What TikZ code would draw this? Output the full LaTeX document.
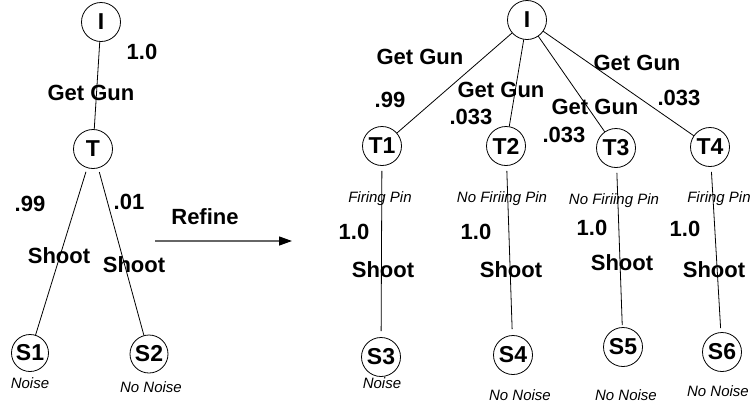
\documentclass[tikz,border=0pt]{standalone}
\usepackage{fontspec}
\setmainfont{Liberation Sans}
\usetikzlibrary{arrows.meta}
\begin{document}
\begin{tikzpicture}[x=1pt,y=-1pt,
  state/.style={circle,draw,line width=0.8pt,minimum size=39pt,inner sep=0pt,font=\fontsize{23}{25}\selectfont\bfseries},
  lbl/.style={inner sep=0pt,font=\fontsize{22}{24}\selectfont\bfseries},
  note/.style={inner sep=0pt,font=\fontsize{15}{17}\selectfont\itshape},
  edge/.style={line width=0.8pt},
  vedge/.style={line width=0.8pt,shorten <=5pt,shorten >=6pt}]
\useasboundingbox (0,0) rectangle (753,405);
% left tree
\node[state] (I) at (101,22) {I};
\node[state] (T) at (93,149) {T};
\node[state,minimum size=37pt] (S1) at (30,353) {S1};
\node[state,minimum size=38pt] (S2) at (149,354) {S2};
\draw[edge] (I) -- (T);
\draw[edge,shorten <=4pt] (T) -- (S1);
\draw[edge,shorten <=4pt] (T) -- (S2);
\node[lbl] (p1) at (142,52) {1.0};
\node[lbl] (g0) at (91,93) {Get Gun};
\node[lbl] (p2) at (30,204) {.99};
\node[lbl] (p3) at (129,202) {.01};
\node[lbl] (sh1) at (59,256) {Shoot};
\node[lbl] (sh2) at (134,265) {Shoot};
\node[note] (n1) at (30,383) {Noise};
\node[note] (n2) at (151,387) {No Noise};
% refine arrow
\node[lbl] (ref) at (205,217) {Refine};
\coordinate (a0) at (155,241);
\coordinate (a1) at (292,241);
\draw[line width=1.3pt,draw=black!60,-{Triangle[length=13pt,width=9pt,fill=black,color=black]}] (a0) -- (a1);
% right tree
\node[state] (RI) at (527,20) {I};
\node[state] (T1) at (382,146) {T1};
\node[state] (T2) at (506,146) {T2};
\node[state] (T3) at (616,148) {T3};
\node[state] (T4) at (710,147) {T4};
\node[state] (S3) at (381,357) {S3};
\node[state] (S4) at (513,355) {S4};
\node[state] (S5) at (623,347) {S5};
\node[state] (S6) at (722,352) {S6};
\draw[edge] (RI) -- (T1);
\draw[edge] (RI) -- (T2);
\draw[edge] (RI) -- (T3);
\draw[edge] (RI) -- (T4);
\draw[vedge] (T1) -- (S3);
\draw[vedge] (T2) -- (S4);
\draw[vedge,shorten >=2pt] (T3) -- (S5);
\draw[vedge,shorten >=4pt] (T4) -- (S6);
\node[lbl] (g1) at (420,57) {Get Gun};
\node[lbl] (q1) at (390,100) {.99};
\node[lbl] (g2) at (501,90) {Get Gun};
\node[lbl] (q2) at (471,117) {.033};
\node[lbl] (g3) at (595,107) {Get Gun};
\node[lbl] (q3) at (564,135) {.033};
\node[lbl] (g4) at (637,63) {Get Gun};
\node[lbl] (q4) at (679,98) {.033};
\node[note] (f1) at (380,199) {Firing Pin};
\node[note] (f2) at (502,199) {No Firiing Pin};
\node[note] (f3) at (614,201) {No Firiing Pin};
\node[note] (f4) at (719,199) {Firing Pin};
\node[lbl] (r1) at (354,232) {1.0};
\node[lbl] (r2) at (476,232) {1.0};
\node[lbl] (r3) at (592,228) {1.0};
\node[lbl] (r4) at (685,229) {1.0};
\node[lbl] (s3) at (383,270) {Shoot};
\node[lbl] (s4) at (511,270) {Shoot};
\node[lbl] (s5) at (622,263) {Shoot};
\node[lbl] (s6) at (714,270) {Shoot};
\node[note] (m3) at (382,383) {Noise};
\node[note] (m4) at (520,395) {No Noise};
\node[note] (m5) at (626,395) {No Noise};
\node[note] (m6) at (718,391) {No Noise};
\end{tikzpicture}
\end{document}
